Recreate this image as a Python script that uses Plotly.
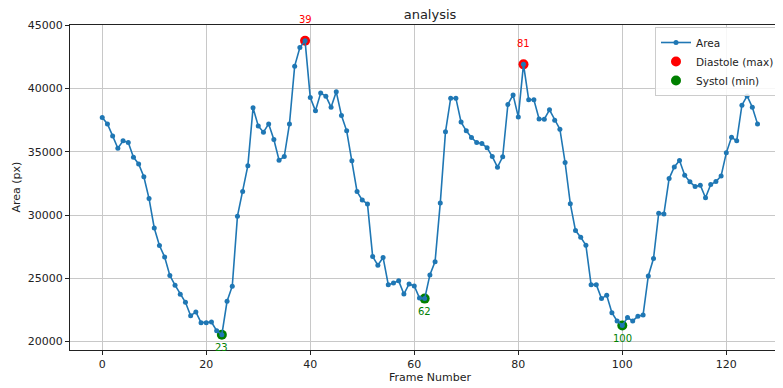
import plotly.graph_objects as go

# ---- data ----
frames = list(range(127))
area = [
    37700, 37200, 36250, 35280, 35860, 35730, 34570, 34040, 33020, 31300,
    28980, 27590, 26690, 25220, 24460, 23750, 23110, 22050, 22350, 21500,
    21500, 21550, 20860, 20550, 23190, 24380, 29910, 31850, 33900, 38470,
    37040, 36540, 37200, 35960, 34330, 34620, 37200, 41760, 43230, 43760,
    39280, 38230, 39630, 39390, 38520, 39730, 37860, 36650, 34280, 31850,
    31180, 30880, 26720, 26040, 26650, 24500, 24630, 24800, 23760, 24560,
    24400, 23450, 23400, 25270, 26320, 30960, 36570, 39230, 39230, 37340,
    36650, 36120, 35720, 35650, 35310, 34620, 33780, 34600, 38740, 39490,
    37750, 41900, 39110, 39110, 37590, 37570, 38310, 37490, 36780, 34150,
    30900, 28770, 28250, 27620, 24500, 24500, 23400, 23670, 22290, 21640,
    21280, 21900, 21640, 22010, 22110, 25190, 26560, 30150, 30090, 32880,
    33800, 34300, 33150, 32620, 32250, 32360, 31360, 32410, 32640, 33090,
    34910, 36150, 35860, 38680, 39410, 38520, 37200,
]
diastole_frames = [39, 81]
systole_frames = [23, 62, 100]
diastole_vals = [area[i] for i in diastole_frames]
systole_vals = [area[i] for i in systole_frames]

FONT = "DejaVu Sans"
BLUE = "#1f77b4"
TXT = "#222222"

# The page body has an 8px margin, so the figure is drawn 8px in from the
# top-left corner; sizes below compensate for that offset.
W, H = 775, 380
ML, MR, MT, MB = 62, 0, 17, 38
plot_h = H - MT - MB

fig = go.Figure()
fig.add_trace(go.Scatter(
    x=diastole_frames, y=diastole_vals, mode="markers", name="Diastole (max)",
    marker=dict(color="red", size=10), legendrank=2, hoverinfo="skip"))
fig.add_trace(go.Scatter(
    x=systole_frames, y=systole_vals, mode="markers", name="Systol (min)",
    marker=dict(color="green", size=10), legendrank=3, hoverinfo="skip"))
fig.add_trace(go.Scatter(
    x=frames, y=area, mode="lines+markers", name="Area",
    line=dict(color=BLUE, width=1.6), marker=dict(color=BLUE, size=5),
    legendrank=1))

for f, v in zip(diastole_frames, diastole_vals):
    fig.add_annotation(x=f, y=v, text=str(f), showarrow=False, yshift=21,
                       font=dict(family=FONT, size=10, color="red"))
for f, v in zip(systole_frames, systole_vals):
    fig.add_annotation(x=f, y=v, text=str(f), showarrow=False, yshift=-13,
                       font=dict(family=FONT, size=10, color="green"))

# axis titles placed as annotations for exact positioning
fig.add_annotation(text="Frame Number", xref="paper", yref="paper",
                   x=(430 - 8 - ML) / (W - ML - MR), y=-(369 - (H - MB)) / plot_h,
                   xanchor="center", yanchor="middle", showarrow=False,
                   font=dict(family=FONT, size=11, color=TXT))
fig.add_annotation(text="Area (px)", xref="paper", yref="paper",
                   x=(16 - 8 - ML) / (W - ML - MR), y=0.5, textangle=-90,
                   xanchor="center", yanchor="middle", showarrow=False,
                   font=dict(family=FONT, size=11, color=TXT))

axis_common = dict(
    showgrid=True, gridcolor="#c8c8c8", gridwidth=1,
    zeroline=False, showline=True, linecolor=TXT, linewidth=1,
    ticks="outside", ticklen=4, tickcolor=TXT, tickwidth=1,
    tickfont=dict(family=FONT, size=11, color=TXT),
    automargin=False,
)

fig.update_xaxes(range=[-6.2, 130.9], dtick=20, tick0=0, mirror=True,
                 **axis_common)
fig.update_yaxes(range=[19340, 45010], dtick=5000, tick0=0, tickformat="d",
                 mirror=False, **axis_common)

fig.update_layout(
    width=W, height=H,
    margin=dict(l=ML, r=MR, t=MT, b=MB, autoexpand=False),
    paper_bgcolor="white", plot_bgcolor="white",
    font=dict(family=FONT, size=11, color=TXT),
    title=dict(text="analysis", x=(430 - 8 - ML) / (W - ML - MR), xref="paper",
               xanchor="center", y=1 - 6 / H, yref="container",
               yanchor="middle",
               font=dict(family=FONT, size=13, color=TXT)),
    legend=dict(x=(655 - 8 - ML) / (W - ML - MR),
                y=((H - MB) - (27 - 8)) / plot_h,
                xanchor="left", yanchor="top",
                bgcolor="rgba(255,255,255,0.85)", bordercolor="#cccccc",
                borderwidth=1, font=dict(family=FONT, size=10.5, color=TXT),
                itemwidth=30, tracegroupgap=0),
    showlegend=True,
)

fig.write_html("out.html")
